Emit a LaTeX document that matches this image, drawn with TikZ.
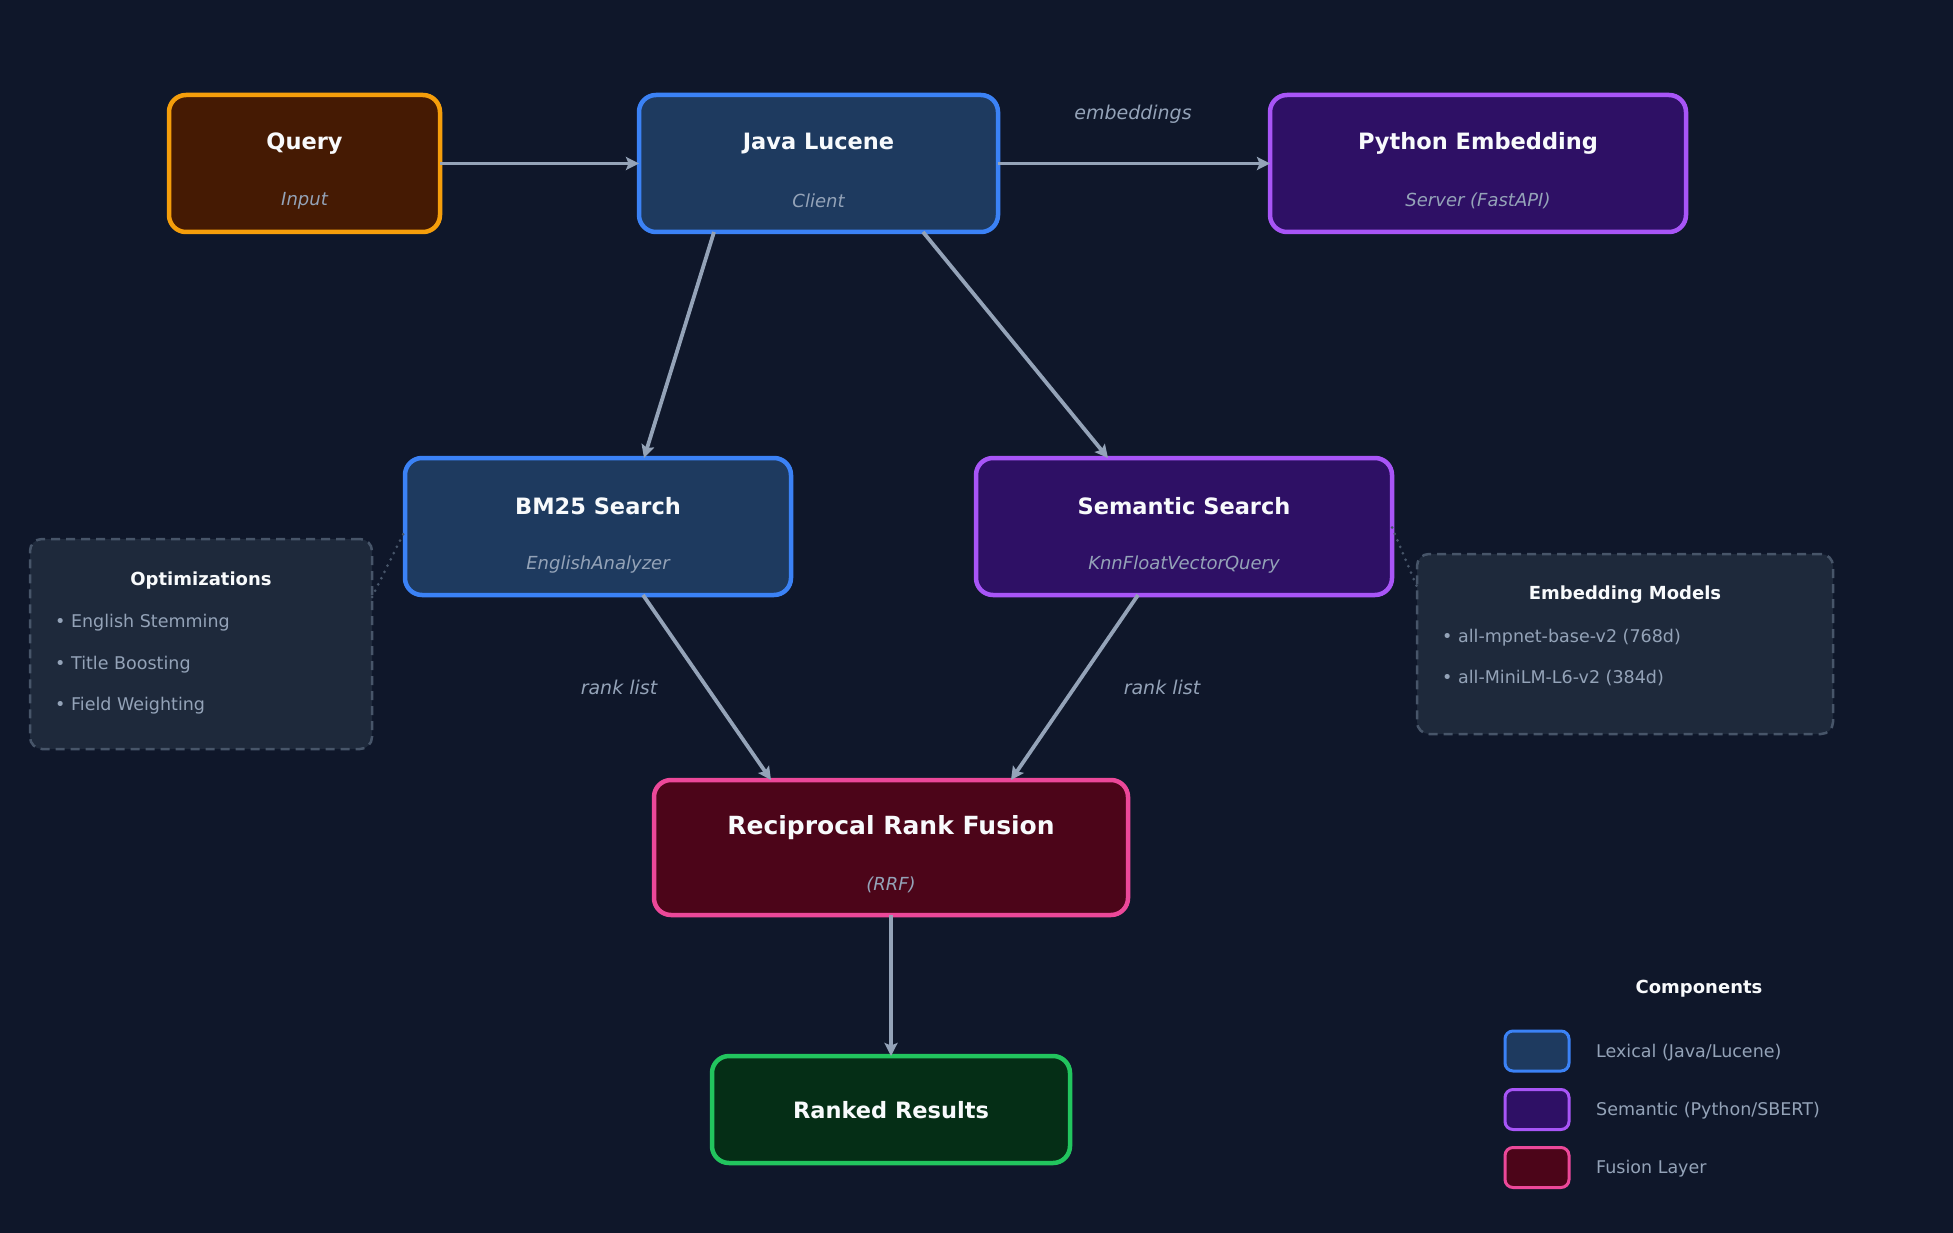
\documentclass[tikz,border=0pt]{standalone}
\usepackage{fontspec}
\setmainfont{DejaVu Sans}
\usetikzlibrary{arrows.meta}
\definecolor{bg}{HTML}{0F172A}
\definecolor{txt}{HTML}{F8FAFC}
\definecolor{sub}{HTML}{94A3B8}
\definecolor{amberF}{HTML}{451A03}\definecolor{amberD}{HTML}{F59E0B}
\definecolor{blueF}{HTML}{1E3A5F}\definecolor{blueD}{HTML}{3B82F6}
\definecolor{purpF}{HTML}{2E1065}\definecolor{purpD}{HTML}{A855F7}
\definecolor{pinkF}{HTML}{4C0519}\definecolor{pinkD}{HTML}{EC4899}
\definecolor{greenF}{HTML}{052E16}\definecolor{greenD}{HTML}{22C55E}
\definecolor{noteF}{HTML}{1E293B}\definecolor{noteD}{HTML}{475569}
\tikzset{
  box/.style={rectangle, rounded corners=17pt, line width=4.5pt, inner sep=0pt, outer sep=0pt},
  notebox/.style={rectangle, rounded corners=12pt, line width=2.5pt, draw=noteD, fill=noteF, dash pattern=on 9pt off 6pt, inner sep=0pt, outer sep=0pt},
  legbox/.style={rectangle, rounded corners=8pt, line width=3pt, inner sep=0pt, outer sep=0pt, minimum width=64pt, minimum height=40pt},
  ttl/.style={text=txt, font=\fontsize{22.5}{26}\selectfont\bfseries, inner sep=0pt},
  subt/.style={text=sub, font=\fontsize{18}{22}\selectfont\itshape, inner sep=0pt},
  elabel/.style={text=sub, font=\fontsize{19}{22}\selectfont\itshape, inner sep=0pt},
  ntitle/.style={text=txt, font=\fontsize{18}{22}\selectfont\bfseries, inner sep=0pt},
  item/.style={text=sub, font=\fontsize{17.5}{21}\selectfont, inner sep=0pt, anchor=west},
  arr/.style={draw=sub, line width=3.8pt, -{Stealth[length=13pt, width=13pt, inset=2.5pt]}},
  dotline/.style={draw=noteD, line width=3pt, line cap=round, dash pattern=on 0pt off 7pt},
}
\begin{document}
\begin{tikzpicture}[x=1pt, y=-1pt]
\useasboundingbox (0,0) rectangle (1953,1233);
\fill[bg] (0,0) rectangle (1953,1233);

% main boxes
\node[box, draw=amberD, fill=amberF, minimum width=271pt, minimum height=137pt] (query) at (304.5,163.5) {};
\node[box, draw=blueD, fill=blueF, minimum width=359pt, minimum height=137pt] (java) at (818.5,163.5) {};
\node[box, draw=purpD, fill=purpF, minimum width=416pt, minimum height=137pt] (python) at (1478,163.5) {};
\node[box, draw=blueD, fill=blueF, minimum width=386pt, minimum height=137pt] (bm25) at (598,526.5) {};
\node[box, draw=purpD, fill=purpF, minimum width=416pt, minimum height=137pt] (sem) at (1184,526.5) {};
\node[box, draw=pinkD, fill=pinkF, minimum width=474pt, minimum height=135pt] (rrf) at (891,847.5) {};
\node[box, draw=greenD, fill=greenF, minimum width=358pt, minimum height=107pt] (ranked) at (891,1109.5) {};

% texts
\node[ttl] (query-t) at (304.5,143.5) {Query};
\node[subt] (query-s) at (304.5,201) {Input};
\node[ttl] (java-t) at (818.5,143.5) {Java Lucene};
\node[subt] (java-s) at (818.5,201) {Client};
\node[ttl] (python-t) at (1478,143.5) {Python Embedding};
\node[subt] (python-s) at (1478,201) {Server (FastAPI)};
\node[ttl] (bm25-t) at (598,506.5) {BM25 Search};
\node[subt] (bm25-s) at (598,564.5) {EnglishAnalyzer};
\node[ttl] (sem-t) at (1184,506.5) {Semantic Search};
\node[subt] (sem-s) at (1184,564.5) {KnnFloatVectorQuery};
\node[ttl, font=\fontsize{25}{29}\selectfont\bfseries] (rrf-t) at (891,827.5) {Reciprocal Rank Fusion};
\node[subt] (rrf-s) at (891,885) {(RRF)};
\node[ttl] (ranked-t) at (891,1110.5) {Ranked Results};

% notes
\node[notebox, minimum width=342pt, minimum height=210pt] (opt) at (201,644) {};
\node[ntitle] (opt-t) at (201,580.5) {Optimizations};
\node[item] (opt-1) at (55,623) {• English Stemming};
\node[item] (opt-2) at (55,664.5) {• Title Boosting};
\node[item] (opt-3) at (55,705.5) {• Field Weighting};

\node[notebox, minimum width=416pt, minimum height=180pt] (emb) at (1625,644) {};
\node[ntitle] (emb-t) at (1625,594.5) {Embedding Models};
\node[item] (emb-1) at (1442,638) {• all-mpnet-base-v2 (768d)};
\node[item] (emb-2) at (1442,678) {• all-MiniLM-L6-v2 (384d)};

% connectors
\draw[arr] (query.east) -- (java.west);
\draw[arr] (java.east) -- (python.west);
\node[elabel] (emb-lbl) at (1133,114) {embeddings};
\draw[arr] ([xshift=75pt]java.south west) -- ([xshift=239pt]bm25.north west);
\draw[arr] ([xshift=284pt]java.south west) -- ([xshift=132pt]sem.north west);
\draw[arr] ([xshift=238pt]bm25.south west) -- ([xshift=117pt]rrf.north west);
\draw[arr] ([xshift=162pt]sem.south west) -- ([xshift=357pt]rrf.north west);
\node[elabel] (rl1) at (619,687) {rank list};
\node[elabel] (rl2) at (1162,687) {rank list};
\draw[arr] (rrf.south) -- (ranked.north);

\draw[dotline] ([yshift=47pt]opt.east) -- ([yshift=-4pt]bm25.west);
\draw[dotline] ([yshift=-1pt]sem.east) -- ([yshift=57pt]emb.west);

% legend
\node[ntitle] (leg-t) at (1699,989) {Components};
\node[legbox, draw=blueD, fill=blueF] (leg1) at (1537,1051) {};
\node[legbox, draw=purpD, fill=purpF] (leg2) at (1537,1109.5) {};
\node[legbox, draw=pinkD, fill=pinkF] (leg3) at (1537,1167.5) {};
\node[item] (leg1-t) at (1596,1052.5) {Lexical (Java/Lucene)};
\node[item] (leg2-t) at (1596,1111) {Semantic (Python/SBERT)};
\node[item] (leg3-t) at (1596,1169) {Fusion Layer};
\end{tikzpicture}
\end{document}
